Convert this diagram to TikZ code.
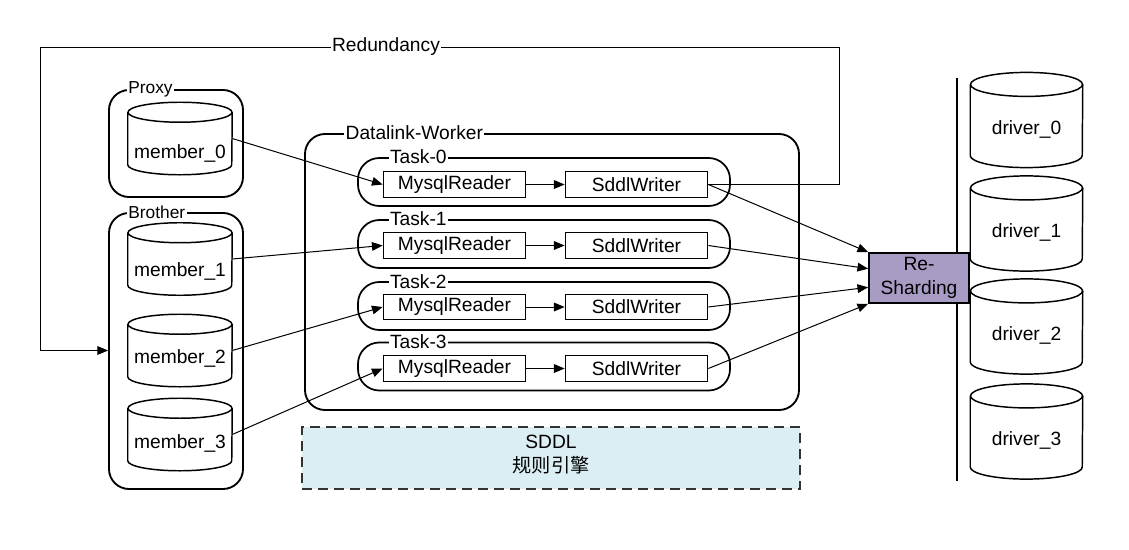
\documentclass[tikz,border=0pt]{standalone}
\usepackage{fontspec}
\setmainfont{Liberation Sans}
\newfontfamily\cjk{Noto Sans CJK SC}
\usetikzlibrary{arrows.meta,fit,calc}
\definecolor{rsfill}{RGB}{168,155,196}
\definecolor{sddlfill}{RGB}{218,238,243}
\newcommand\drawcyl[3]{% node, half width, ry
  \draw[cylline] ([yshift=-#3]#1.north west) -- ([yshift=#3]#1.south west)
    arc[start angle=180,end angle=360,x radius=#2,y radius=#3]
    -- ([yshift=-#3]#1.north east)
    ([yshift=-#3]#1.north) ellipse [x radius=#2, y radius=#3];}
\tikzset{
  mainfont/.style={font=\fontsize{14.4}{18}\selectfont},
  smallfont/.style={font=\fontsize{13}{15}\selectfont},
  outerbox/.style={draw, line width=1.4pt, rounded corners=15pt, inner sep=0pt},
  taskbox/.style={draw, line width=1.3pt, rounded corners=16pt, minimum width=279pt, minimum height=36pt, inner sep=0pt},
  rw/.style={draw, line width=0.8pt, fill=white, minimum width=107pt, minimum height=19pt, inner sep=0pt, mainfont},
  memcyl/.style={minimum width=78pt, minimum height=54pt, inner sep=0pt},
  drvcyl/.style={minimum width=84pt, minimum height=71pt, inner sep=0pt},
  cylline/.style={line width=1.1pt},
  cyltext/.style={mainfont, yshift=-7pt},
  boxlbl/.style={fill=white, inner xsep=1pt, inner ysep=0.5pt, anchor=west},
  conn/.style={line width=0.75pt, -{Triangle[length=8pt,width=6.5pt]}},
  bus/.style={line width=2.2pt},
  rsbox/.style={draw, line width=1.3pt, fill=rsfill, minimum width=75pt, minimum height=37.5pt, inner sep=0pt, align=center, font=\fontsize{14.4}{18}\selectfont},
  sddl/.style={draw=black!80, line width=1.1pt, dash pattern=on 7.5pt off 4.5pt, fill=sddlfill, inner sep=0pt}
}
\begin{document}
\begin{tikzpicture}[x=0.75pt,y=-0.75pt]
\useasboundingbox (0,0) rectangle (1129,550);

% outer boxes
\node[outerbox, fit={(109,90) (243,197)}] (proxy) {};
\node[outerbox, fit={(109,213) (243,489)}] (brother) {};
\node[outerbox, fit={(305,134) (799,410)}] (worker) {};

% SDDL
\node[sddl, fit={(302,427) (800,489)}] (sddlbox) {};
\node[align=center, font=\fontsize{14.4}{18}\selectfont] (sddltext) at (551,455) {SDDL\\{\cjk 规则引擎}};

% tasks
\node[taskbox] (t0) at (544,182) {};
\node[taskbox] (t1) at (544,244) {};
\node[taskbox] (t2) at (544,306) {};
\node[taskbox] (t3) at (544,366.5) {};

% labels on borders
\node[boxlbl, smallfont] (proxylbl) at ([xshift=14pt]proxy.north west) {Proxy};
\node[boxlbl, smallfont] (brotherlbl) at ([xshift=14pt]brother.north west) {Brother};
\node[boxlbl, mainfont] (workerlbl) at ([xshift=30pt]worker.north west) {Datalink-Worker};
\node[boxlbl, mainfont] (t0lbl) at ([xshift=23.5pt]t0.north west) {Task-0};
\node[boxlbl, mainfont] (t1lbl) at ([xshift=23.5pt]t1.north west) {Task-1};
\node[boxlbl, mainfont] (t2lbl) at ([xshift=23.5pt]t2.north west) {Task-2};
\node[boxlbl, mainfont] (t3lbl) at ([xshift=23.5pt]t3.north west) {Task-3};

% readers and writers
\node[rw] (r0) at (454.5,184.5) {MysqlReader};
\node[rw] (w0) at (636.5,184.5) {SddlWriter};
\node[rw] (r1) at (454.5,245.5) {MysqlReader};
\node[rw] (w1) at (636.5,245.5) {SddlWriter};
\node[rw] (r2) at (454.5,307) {MysqlReader};
\node[rw] (w2) at (636.5,307) {SddlWriter};
\node[rw] (r3) at (454.5,368.5) {MysqlReader};
\node[rw] (w3) at (636.5,368.5) {SddlWriter};

% member cylinders
\node[memcyl, label={[cyltext, yshift=-4pt]center:member\_0}] (m0) at (180,138.5) {};
\node[memcyl, label={[cyltext, yshift=-2pt]center:member\_1}] (m1) at (180,259) {};
\node[memcyl, label={[cyltext, yshift=1pt]center:member\_2}] (m2) at (180,350.5) {};
\node[memcyl, label={[cyltext]center:member\_3}] (m3) at (180,434.5) {};
\drawcyl{m0}{39pt}{7.5pt}
\drawcyl{m1}{39pt}{7.5pt}
\drawcyl{m2}{39pt}{7.5pt}
\drawcyl{m3}{39pt}{7.5pt}

% driver cylinders
\node[drvcyl, label={[cyltext]center:driver\_0}] (d0) at (1026.5,120) {};
\node[drvcyl, label={[cyltext]center:driver\_1}] (d1) at (1026.5,223.5) {};
\node[drvcyl, label={[cyltext]center:driver\_2}] (d2) at (1026.5,326.5) {};
\node[drvcyl, label={[cyltext]center:driver\_3}] (d3) at (1026.5,431.5) {};
\drawcyl{d0}{42pt}{9pt}
\drawcyl{d1}{42pt}{9pt}
\drawcyl{d2}{42pt}{9pt}
\drawcyl{d3}{42pt}{9pt}

% bus line and re-sharding
\coordinate (bustop) at (957,78);
\coordinate (busbot) at (957,481);
\draw[bus] (bustop) -- (busbot);
\node[rsbox] (rs) at (919,278) {Re-\\Sharding};

% connectors
\draw[conn] (m0.east) -- (r0.west);
\draw[conn] (m1.east) -- (r1.west);
\draw[conn] (m2.east) -- (r2.west);
\draw[conn] (m3.east) -- (r3.west);
\draw[conn] (r0.east) -- (w0.west);
\draw[conn] (r1.east) -- (w1.west);
\draw[conn] (r2.east) -- (w2.west);
\draw[conn] (r3.east) -- (w3.west);
\draw[conn] (w0.east) -- (rs.north west);
\draw[conn] (w1.east) -- ($(rs.north west)!0.32!(rs.south west)$);
\draw[conn] (w2.east) -- ($(rs.north west)!0.68!(rs.south west)$);
\draw[conn] (w3.east) -- (rs.south west);

% redundancy loop
\coordinate (red1) at (839,47);
\coordinate (red2) at (40,47);
\draw[conn] (w0.east) -| (red1) -- node[pos=0.567, fill=white, inner xsep=1pt, inner ysep=0.5pt, mainfont] (redlbl) {Redundancy} (red2) |- (m2.west -| brother.west);
\end{tikzpicture}
\end{document}
